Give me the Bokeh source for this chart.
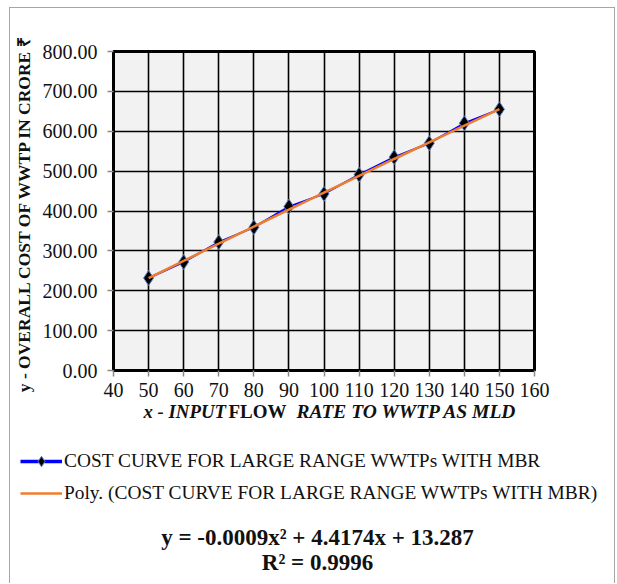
from bokeh.plotting import figure
from bokeh.layouts import column
from bokeh.models import (FixedTicker, NumeralTickFormatter, Label, Legend, LegendItem, Range1d)
from bokeh.embed import file_html
from bokeh.resources import INLINE

# ---- data ----
flow_mld = [50, 60, 70, 80, 90, 100, 110, 120, 130, 140, 150]
cost_crore = [232, 272, 322, 359, 411, 443, 491, 535, 570, 620, 655]
poly_coeffs = [-0.0009, 4.4174, 13.287]   # trendline shown on chart
x_ticks = [40, 50, 60, 70, 80, 90, 100, 110, 120, 130, 140, 150, 160]
y_ticks = [0, 100, 200, 300, 400, 500, 600, 700, 800]
series_name = "COST CURVE FOR LARGE RANGE WWTPs WITH MBR"
trend_name = "Poly. (COST CURVE FOR LARGE RANGE WWTPs WITH MBR)"
equation = "y = -0.0009x\u00b2 + 4.4174x + 13.287"
r2_text = "R\u00b2 = 0.9996"
x_label_parts = [("x - INPUT", "bold italic", "18.8px"),
                 ("FLOW", "bold", "19px"),
                 ("RATE TO WWTP AS MLD", "bold italic", "19.5px")]

trend_y = [poly_coeffs[0] * x * x + poly_coeffs[1] * x + poly_coeffs[2] for x in flow_mld]

FONT = "Liberation Serif"
TXT = "#111111"
BLUE = "#0000ff"
ORANGE = "#ed7d31"
EDGE = "1px solid #a6a6a6"
W = 604

# ---------- chart ----------
p = figure(width=W, height=392, output_backend="svg", toolbar_location=None,
           x_range=Range1d(40, 160), y_range=Range1d(0, 800),
           min_border_left=103, min_border_top=43, min_border_right=80, min_border_bottom=30)

p.background_fill_color = "#f2f2f2"
p.border_fill_color = "white"
p.outline_line_color = "black"
p.outline_line_width = 3

for ax in (p.xaxis[0], p.yaxis[0]):
    ax.major_label_text_font = FONT
    ax.major_label_text_font_size = "20px"
    ax.major_label_text_color = TXT
    ax.axis_line_color = None
    ax.major_tick_line_color = "#8a8a8a"
    ax.major_tick_line_width = 1.5
    ax.major_tick_in = 0
    ax.major_tick_out = 6
    ax.minor_tick_line_color = None

p.xaxis.ticker = FixedTicker(ticks=x_ticks)
p.yaxis.ticker = FixedTicker(ticks=y_ticks)
p.yaxis.formatter = NumeralTickFormatter(format="0.00")
p.xaxis.major_label_standoff = 6
p.yaxis.major_label_standoff = 10

p.yaxis.axis_label = "y - OVERALL  COST OF WWTP IN CRORE \u20b9"
p.yaxis.axis_label_text_font = FONT
p.yaxis.axis_label_text_font_style = "bold"
p.yaxis.axis_label_text_font_size = "17.5px"
p.yaxis.axis_label_text_color = TXT
p.yaxis.axis_label_standoff = 6

p.grid.grid_line_color = "black"
p.grid.grid_line_width = 1.6
p.grid.grid_line_alpha = 1.0

p.line(flow_mld, cost_crore, line_color=BLUE, line_width=2)
p.scatter(flow_mld, cost_crore, marker="diamond", size=15,
          fill_color="black", line_color="#5b7fc0", line_width=1)
p.line(flow_mld, trend_y, line_color=ORANGE, line_width=2.5)

# ---------- x-axis title, legend, equation (page coordinates as data units) ----------
q = figure(width=W, height=183, output_backend="svg", toolbar_location=None,
           x_range=Range1d(10, 614), y_range=Range1d(583, 400),
           x_axis_location=None, y_axis_location=None,
           min_border_left=0, min_border_right=0, min_border_top=0, min_border_bottom=0)
q.grid.visible = False
q.outline_line_color = None
q.background_fill_color = "white"
q.border_fill_color = "white"

# legend proxies (hidden copies of the series carrying the chart's styling)
lg_line = q.line(flow_mld, cost_crore, line_color=BLUE, line_width=3.5, visible=False)
lg_pts = q.scatter(flow_mld, cost_crore, marker="diamond", size=11,
                   fill_color="black", line_color="#5b7fc0", visible=False)
lg_trend = q.line(flow_mld, trend_y, line_color=ORANGE, line_width=2.5, visible=False)

legend = Legend(items=[LegendItem(label=series_name, renderers=[lg_line, lg_pts]),
                       LegendItem(label=trend_name, renderers=[lg_trend])],
                location=(10, 77), orientation="vertical",
                background_fill_alpha=0, border_line_color=None,
                padding=0, margin=0, spacing=6,
                glyph_width=42, glyph_height=26, label_height=20, label_standoff=2,
                label_text_font=FONT, label_text_font_size="19.4px", label_text_color=TXT)
q.add_layout(legend, "center")

x_starts = [143, 228, 296]
for (txt, style, size), x0 in zip(x_label_parts, x_starts):
    q.add_layout(Label(x=x0, y=411, text=txt,
                       text_font=FONT, text_font_style=style, text_font_size=size,
                       text_baseline="middle", text_align="left", text_color=TXT))

q.add_layout(Label(x=317, y=537, text=equation,
                   text_font=FONT, text_font_style="bold", text_font_size="23px",
                   text_baseline="middle", text_align="center", text_color=TXT))
q.add_layout(Label(x=317, y=562, text=r2_text,
                   text_font=FONT, text_font_style="bold", text_font_size="23px",
                   text_baseline="middle", text_align="center", text_color=TXT))

top_block = column(p, spacing=0, margin=(7, 0, 0, 9),
                   styles={"border-top": EDGE, "border-left": EDGE, "border-right": EDGE})
bottom_block = column(q, spacing=0, margin=(0, 0, 0, 9),
                      styles={"border-left": EDGE, "border-right": EDGE})

open("out.html", "w").write(file_html([top_block, bottom_block], INLINE))
